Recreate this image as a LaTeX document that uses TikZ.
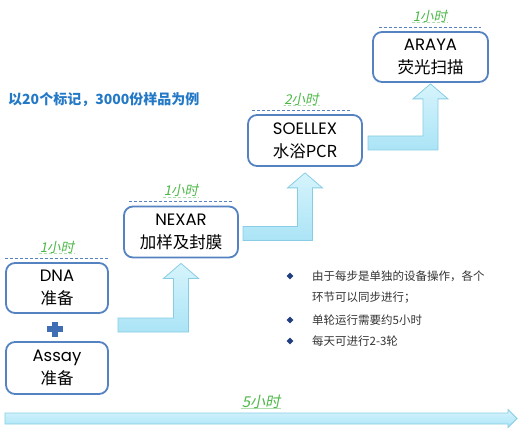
\documentclass[tikz,border=0pt]{standalone}
\usepackage{fontspec}
\usepackage{xcolor}
\usepackage{tikz}
\usetikzlibrary{positioning,calc,shapes.geometric}
\newfontfamily\cjk{Noto Sans CJK SC}
\newfontfamily\cjkit[FakeSlant=0.2]{Noto Sans CJK SC}
\newfontfamily\latinfont{Poppins}
\definecolor{BoxBlue}{HTML}{5583C2}
\definecolor{PlusBlue}{HTML}{3F6EB5}
\definecolor{NoteBlue}{HTML}{2479C6}
\definecolor{BulletBlue}{HTML}{1F3F80}
\definecolor{TextGray}{HTML}{333333}
\definecolor{HourGreen}{HTML}{4DB848}
\definecolor{ArrowTop}{HTML}{D6F4FC}
\definecolor{ArrowBottom}{HTML}{ABE4F6}
\definecolor{ArrowLine}{HTML}{88CDE3}

\tikzset{
  stepbox/.style={draw=BoxBlue, line width=1.8pt, rounded corners=9pt, fill=white,
    minimum width=114, minimum height=51, inner sep=0pt, align=center,
    font=\cjk\fontsize{16.5}{23}\selectfont},
  hourline/.style={draw=BoxBlue, line width=1.1pt, dash pattern=on 3pt off 2pt},
  hour/.style={text=HourGreen, inner sep=1pt, font=\cjkit\fontsize{13.5}{14}\selectfont,
    path picture={\draw[HourGreen!45, line width=0.6pt]
      ([yshift=0.8pt]path picture bounding box.south west) --
      ([yshift=0.8pt]path picture bounding box.south east);}},
  fatarrow/.style={draw=ArrowLine, line width=0.8pt, top color=ArrowTop, bottom color=ArrowBottom},
  bullet/.style={diamond, fill=BulletBlue, inner sep=0pt, minimum size=7pt},
  bullettext/.style={anchor=west, inner sep=0pt, text=TextGray, font=\cjk\fontsize{11.5}{12}\selectfont}
}

\newcommand{\elbowarrow}[3]{%
  \path[fatarrow] let \p1=(#1), \p2=(#2) in
    (\x1,\y1-7pt) -- (\x2+7.5pt,\y1-7pt) -- (\x2+7.5pt,\y2-#3-15pt)
    -- (\x2+17.5pt,\y2-#3-15pt) -- (\x2,\y2-#3) -- (\x2-17.5pt,\y2-#3-15pt)
    -- (\x2-7.5pt,\y2-#3-15pt) -- (\x2-7.5pt,\y1+7pt) -- (\x1,\y1+7pt) -- cycle;}

\begin{document}
\begin{tikzpicture}[x=1pt, y=1pt]
  \useasboundingbox (0,0) rectangle (520,440);

  % steps
  \node[stepbox] (nexar) at (181,208) {{\latinfont NEXAR}\\加样及封膜};
  \node[stepbox] (soellex) at (305,299.5) {{\latinfont SOELLEX}\\水浴PCR};
  \node[stepbox, minimum width=115, minimum height=50] (araya) at (430.5,383) {{\latinfont ARAYA}\\荧光扫描};

  % arrows between steps
  \coordinate (a1) at (118,115);
  \coordinate (a2) at (243,206.5);
  \coordinate (a3) at (368,297);
  \elbowarrow{a1}{nexar.south}{5pt}
  \elbowarrow{a2}{soellex.south}{6pt}
  \elbowarrow{a3}{araya.south}{1pt}

  % preparation
  \node[stepbox, minimum width=102, minimum height=50] (dna) at (57,152) {{\latinfont DNA}\\准备};
  \node[stepbox, minimum width=102, minimum height=52] (assay) at (57,72) {{\latinfont Assay}\\准备};
  \coordinate (plus) at (55,111);
  \fill[PlusBlue] ($(plus)+(-8,-3)$) rectangle ($(plus)+(8,3)$);
  \fill[PlusBlue] ($(plus)+(-3,-7.5)$) rectangle ($(plus)+(3,7.5)$);

  % durations
  \draw[hourline] ($(dna.north west)+(0,4)$) -- node[hour, above=3pt] (h1) {1小时} ($(dna.north east)+(0,4)$);
  \draw[hourline] ($(nexar.north west)+(6,4)$) -- node[hour, above=3pt] (h2) {1小时} ($(nexar.north east)+(-6,4)$);
  \draw[hourline] ($(soellex.north west)+(5,4)$) -- node[hour, above=3pt] (h3) {2小时} ($(soellex.north east)+(-12,4)$);
  \draw[hourline] ($(araya.north west)+(7,4)$) -- node[hour, above=3pt] (h4) {1小时} ($(araya.north east)+(-8,4)$);

  % timeline
  \coordinate (t0) at (5,21.5);
  \coordinate (t1) at (517,21.5);
  \path[fatarrow] let \p1=(t0), \p2=(t1) in
    (\x1,\y1-5.5pt) -- (\x2-9pt,\y1-5.5pt) -- (\x2-9pt,\y1-9pt) -- (\x2,\y1)
    -- (\x2-9pt,\y1+9pt) -- (\x2-9pt,\y1+5.5pt) -- (\x1,\y1+5.5pt) -- cycle;
  \node[hour, font=\cjkit\fontsize{15}{16}\selectfont] (total) at ($(t0)!0.5!(t1)+(0,17)$) {5小时};

  % notes
  \node[anchor=west, inner sep=0pt, text=NoteBlue, font=\cjk\bfseries\fontsize{14}{15}\selectfont]
    (note) at (8,340) {以20个标记，3000份样品为例};
  \foreach \name/\y in {b1/164, b3/120, b4/99} {
    \node[bullet] (\name) at (290,\y) {};
  }
  \node[bullettext] (l1) at (312,164) {由于每步是单独的设备操作，各个};
  \node[bullettext] (l2) at (312,142) {环节可以同步进行；};
  \node[bullettext] (l3) at (312,120) {单轮运行需要约5小时};
  \node[bullettext] (l4) at (312,99) {每天可进行2-3轮};
\end{tikzpicture}
\end{document}
